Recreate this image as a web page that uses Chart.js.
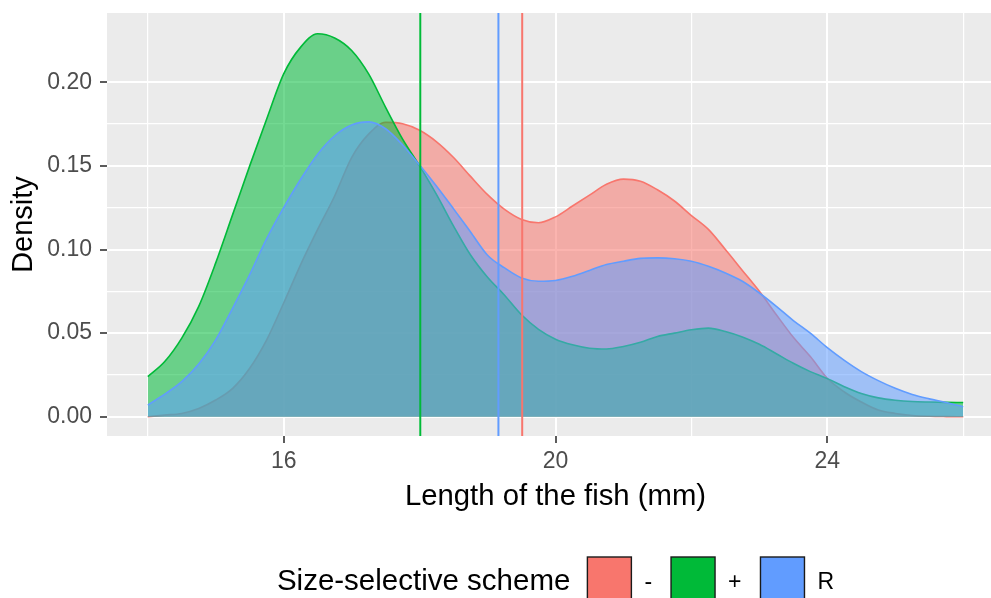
<!DOCTYPE html>
<html>
<head>
<meta charset="utf-8">
<script src="https://cdn.jsdelivr.net/npm/chart.js@4.4.1/dist/chart.umd.min.js"></script>
<style>
html,body{margin:0;padding:0;background:#ffffff;overflow:hidden}
canvas{display:block}
</style>
</head>
<body>
<canvas id="c" width="991" height="598"></canvas>
<script>
// ---- data ----
const lengths = [14, 14.25, 14.5, 14.75, 15, 15.25, 15.5, 15.75, 16, 16.25, 16.5, 16.75, 17, 17.25, 17.5, 17.75,
  18, 18.25, 18.5, 18.75, 19, 19.25, 19.5, 19.75, 20, 20.25, 20.5, 20.75, 21, 21.25, 21.5, 21.75,
  22, 22.25, 22.5, 22.75, 23, 23.25, 23.5, 23.75, 24, 24.25, 24.5, 24.75, 25, 25.25, 25.5, 25.75, 26];
const densityMinus = [0.000, 0.001, 0.002, 0.005, 0.010, 0.017, 0.029, 0.046, 0.068, 0.091, 0.112, 0.132, 0.155, 0.169, 0.176, 0.1752,
  0.1713, 0.1644, 0.155, 0.1437, 0.1328, 0.124, 0.118, 0.116, 0.1195, 0.126, 0.1325, 0.139, 0.1421, 0.1408, 0.1357, 0.129,
  0.1203, 0.112, 0.100, 0.0875, 0.075, 0.061, 0.0475, 0.036, 0.023, 0.0148, 0.0088, 0.004, 0.002, 0.0008, 0.0003, 0.0001, 0.000];
const densityPlus = [0.024, 0.033, 0.047, 0.066, 0.092, 0.121, 0.150, 0.178, 0.205, 0.221, 0.229, 0.2265, 0.219, 0.205, 0.185, 0.166,
  0.150, 0.1328, 0.114, 0.0967, 0.0834, 0.0727, 0.061, 0.0523, 0.0464, 0.043, 0.041, 0.0405, 0.042, 0.0445, 0.048, 0.050,
  0.052, 0.053, 0.051, 0.0477, 0.0433, 0.0377, 0.032, 0.027, 0.0228, 0.018, 0.0139, 0.0113, 0.0099, 0.0091, 0.0088, 0.0086, 0.0085];
const densityR = [0.007, 0.0135, 0.021, 0.0315, 0.046, 0.065, 0.085, 0.1065, 0.125, 0.142, 0.157, 0.168, 0.1745, 0.1763, 0.1722, 0.1625,
  0.1505, 0.1378, 0.1243, 0.1105, 0.0966, 0.089, 0.083, 0.081, 0.0815, 0.084, 0.0875, 0.091, 0.093, 0.0947, 0.095, 0.0945,
  0.093, 0.090, 0.086, 0.081, 0.074, 0.066, 0.0575, 0.050, 0.0413, 0.0337, 0.027, 0.0216, 0.017, 0.0133, 0.0107, 0.0085, 0.006];
const seriesNames = ['-', '+', 'R'];
const seriesColors = ['#F8766D', '#00BA38', '#619CFF'];
const meanLengths = [19.51, 18.01, 19.16];
const xTickValues = [14, 16, 18, 20, 22, 24, 26];
const xTickLabels = ['', '16', '', '20', '', '24', ''];
const yTickValues = [0, 0.025, 0.05, 0.075, 0.1, 0.125, 0.15, 0.175, 0.2];
const yTickLabels = ['0.00', '', '0.05', '', '0.10', '', '0.15', '', '0.20'];
const xRange = [13.4, 26.6];
const yRange = [-0.0115, 0.2414];
const xTitle = 'Length of the fish (mm)';
const yTitle = 'Density';
const legendTitle = 'Size-selective scheme';

// ---- helpers ----
const FONT = "'Liberation Sans', Arial, sans-serif";
function rgba(hex, a) {
  const n = parseInt(hex.slice(1), 16);
  return 'rgba(' + ((n >> 16) & 255) + ',' + ((n >> 8) & 255) + ',' + (n & 255) + ',' + a + ')';
}
const densities = [densityMinus, densityPlus, densityR];

const densityDatasets = densities.map((ys, i) => ({
  type: 'line',
  label: seriesNames[i],
  data: lengths.map((x, k) => ({x: x, y: ys[k]})),
  borderColor: seriesColors[i],
  backgroundColor: rgba(seriesColors[i], 0.55),
  borderWidth: 1.6,
  fill: 'origin',
  pointRadius: 0,
  cubicInterpolationMode: 'monotone',
  order: 3 - i
}));
const meanDatasets = meanLengths.map((m, i) => ({
  type: 'line',
  label: 'mean ' + seriesNames[i],
  data: [{x: m, y: yRange[0]}, {x: m, y: yRange[1]}],
  borderColor: seriesColors[i],
  borderWidth: 2,
  pointRadius: 0,
  fill: false,
  order: 0
}));

// extends the x panel past the right edge of the picture, as in the (cropped) reference
const PANEL_RIGHT = 1004;
const panelPlugin = {
  id: 'panel',
  afterLayout(chart) {
    const xs = chart.scales.x;
    xs.right = PANEL_RIGHT;
    xs.width = xs.right - xs.left;
    xs.configure();
    chart.chartArea.right = PANEL_RIGHT;
    chart.chartArea.width = PANEL_RIGHT - chart.chartArea.left;
  },
  beforeDraw(chart) {
    const {ctx, chartArea: a} = chart;
    ctx.save();
    ctx.fillStyle = '#ffffff';
    ctx.fillRect(0, 0, chart.width, chart.height);
    ctx.fillStyle = '#EBEBEB';
    ctx.fillRect(a.left, a.top, a.right - a.left, a.bottom - a.top);
    ctx.restore();
  }
};

const legendPlugin = {
  id: 'ggLegend',
  afterDraw(chart) {
    const ctx = chart.ctx;
    const xs = chart.scales.x;
    const cx = (xs.left + xs.right) / 2;
    const box = 44, gapTitle = 17, gapBoxLabel = 13, gapItems = 19;
    ctx.save();
    ctx.font = '29.5px ' + FONT;
    const titleW = ctx.measureText(legendTitle).width;
    ctx.font = '23px ' + FONT;
    const labelWs = seriesNames.map(n => ctx.measureText(n).width);
    let total = titleW + gapTitle;
    labelWs.forEach((w, i) => { total += box + gapBoxLabel + w + (i < labelWs.length - 1 ? gapItems : 0); });
    let x = cx - total / 2;
    const boxTop = chart.height - 41;
    const baseline = chart.height - 8.5;
    ctx.textBaseline = 'alphabetic';
    ctx.textAlign = 'left';
    ctx.fillStyle = '#000000';
    ctx.font = '29.5px ' + FONT;
    ctx.fillText(legendTitle, x, baseline);
    x += titleW + gapTitle;
    ctx.font = '23px ' + FONT;
    seriesNames.forEach((n, i) => {
      ctx.fillStyle = seriesColors[i];
      ctx.fillRect(x, boxTop, box, box);
      ctx.strokeStyle = '#1a1a1a';
      ctx.lineWidth = 1.4;
      ctx.strokeRect(x, boxTop, box, box);
      x += box + gapBoxLabel;
      ctx.fillStyle = '#000000';
      ctx.fillText(n, x, baseline - 0.5);
      x += labelWs[i] + gapItems;
    });
    ctx.restore();
  }
};

new Chart(document.getElementById('c'), {
  data: {datasets: densityDatasets.concat(meanDatasets)},
  plugins: [panelPlugin, legendPlugin],
  options: {
    responsive: false,
    devicePixelRatio: 1,
    animation: false,
    layout: {padding: {top: 13, left: 0, right: 0, bottom: 0}},
    plugins: {legend: {display: false}, tooltip: {enabled: false}},
    scales: {
      x: {
        type: 'linear',
        min: xRange[0],
        max: xRange[1],
        afterBuildTicks: s => { s.ticks = xTickValues.map(v => ({value: v})); },
        afterFit: s => { s.height = 162; s.paddingLeft = 0; s.paddingRight = 0; },
        border: {display: false},
        grid: {
          color: '#FFFFFF',
          lineWidth: c => (xTickLabels[c.index] ? 2 : 1.2),
          drawTicks: true,
          tickLength: 7,
          tickWidth: 1.6,
          tickColor: c => (xTickLabels[c.index] ? '#333333' : 'rgba(0,0,0,0)')
        },
        ticks: {
          autoSkip: false,
          maxRotation: 0,
          padding: 5,
          color: '#4D4D4D',
          font: {size: 23, family: FONT},
          callback: (v, i) => xTickLabels[i]
        },
        title: {
          display: true,
          text: xTitle,
          color: '#000000',
          font: {size: 29.3, family: FONT},
          padding: {top: 0, bottom: 84}
        }
      },
      y: {
        type: 'linear',
        min: yRange[0],
        max: yRange[1],
        afterBuildTicks: s => { s.ticks = yTickValues.map(v => ({value: v})); },
        afterFit: s => { s.width = 107; s.paddingTop = 0; s.paddingBottom = 0; },
        border: {display: false},
        grid: {
          color: '#FFFFFF',
          lineWidth: c => (yTickLabels[c.index] ? 2 : 1.2),
          drawTicks: true,
          tickLength: 7,
          tickWidth: 1.6,
          tickColor: c => (yTickLabels[c.index] ? '#333333' : 'rgba(0,0,0,0)')
        },
        ticks: {
          autoSkip: false,
          padding: 8,
          color: '#4D4D4D',
          font: {size: 23, family: FONT},
          callback: (v, i) => yTickLabels[i]
        },
        title: {
          display: true,
          text: yTitle,
          color: '#000000',
          font: {size: 29, family: FONT},
          padding: {top: 7, bottom: 0}
        }
      }
    }
  }
});
</script>
</body>
</html>
